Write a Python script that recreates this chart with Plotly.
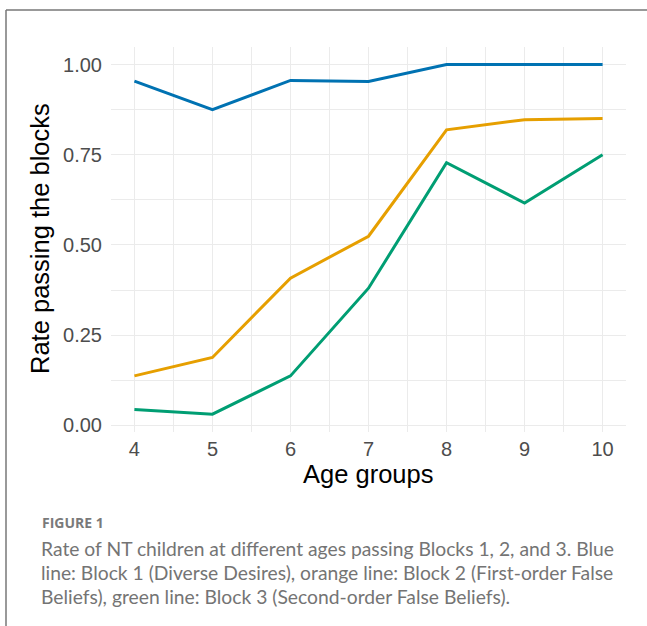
import plotly.graph_objects as go

ages = [4, 5, 6, 7, 8, 9, 10]
block1 = [0.954, 0.875, 0.956, 0.953, 1.0, 1.0, 1.0]
block2 = [0.137, 0.188, 0.408, 0.524, 0.819, 0.847, 0.850]
block3 = [0.044, 0.031, 0.137, 0.380, 0.728, 0.616, 0.750]
series_names = ["Block 1", "Block 2", "Block 3"]
series_colors = ["#0072B2", "#E69F00", "#009E73"]
y_ticks = [0.0, 0.25, 0.5, 0.75, 1.0]
y_tick_labels = ["0.00", "0.25", "0.50", "0.75", "1.00"]
x_title = "Age groups"
y_title = "Rate passing the blocks"
caption_label = "FIGURE 1"
caption_lines = [
    "Rate of NT children at different ages passing Blocks 1, 2, and 3. Blue",
    "line: Block 1 (Diverse Desires), orange line: Block 2 (First-order False",
    "Beliefs), green line: Block 3 (Second-order False Beliefs).",
]

W, H = 647, 626
L, R, T, B = 111, 626, 47, 432  # plot area in pixels


def px(x):
    return (x - L) / (R - L)


def py(y):
    return (B - y) / (B - T)


fig = go.Figure()
for vals, name, col in zip([block1, block2, block3], series_names, series_colors):
    fig.add_trace(go.Scatter(x=ages, y=vals, mode="lines", name=name,
                             line=dict(color=col, width=3)))

grid = "#EBEBEB"
fig.update_layout(
    width=W, height=H,
    margin=dict(l=L, r=W - R, t=T, b=H - B, pad=0),
    paper_bgcolor="white", plot_bgcolor="white",
    showlegend=False,
    font=dict(family="Liberation Sans, Arial, sans-serif"),
    xaxis=dict(range=[3.7, 10.3], tickvals=ages, ticktext=[str(a) for a in ages],
               showgrid=True, gridcolor=grid, gridwidth=1.4, zeroline=False,
               showline=False, ticks="", ticklabelstandoff=3,
               tickfont=dict(size=20, color="#4D4D4D"),
               minor=dict(tickvals=[4.5, 5.5, 6.5, 7.5, 8.5, 9.5], showgrid=True,
                          gridcolor=grid, gridwidth=0.8)),
    yaxis=dict(range=[-0.0185, 1.0485], tickvals=y_ticks, ticktext=y_tick_labels,
               showgrid=True, gridcolor=grid, gridwidth=1.4, zeroline=False,
               showline=False, ticks="", ticklabelstandoff=8,
               tickfont=dict(size=20, color="#4D4D4D"),
               minor=dict(tickvals=[0.125, 0.375, 0.625, 0.875], showgrid=True,
                          gridcolor=grid, gridwidth=0.8)),
)

annotations = [
    dict(text=x_title, x=px(368), y=py(474), xref="paper", yref="paper",
         showarrow=False, xanchor="center", yanchor="middle",
         font=dict(size=25.5, color="black")),
    dict(text=y_title, x=px(40), y=py(239), xref="paper", yref="paper",
         showarrow=False, xanchor="center", yanchor="middle", textangle=-90,
         font=dict(size=25.5, color="black")),
    dict(text="<b>" + caption_label + "</b>", x=px(40), y=py(522), xref="paper", yref="paper",
         showarrow=False, xanchor="left", yanchor="middle",
         font=dict(family="Open Sans, sans-serif", size=14, color="#7A7A7A")),
]
for i, line in enumerate(caption_lines):
    annotations.append(dict(text=line, x=px(39), y=py(548 + 24 * i), xref="paper", yref="paper",
                            showarrow=False, xanchor="left", yanchor="middle",
                            font=dict(family="Lato, sans-serif", size=19.3, color="#747474")))
fig.update_layout(annotations=annotations)

fig.add_shape(type="line", xref="paper", yref="paper", x0=px(6), x1=px(W),
              y0=py(10), y1=py(10), line=dict(color="#777777", width=1.5))
fig.add_shape(type="line", xref="paper", yref="paper", x0=px(6), x1=px(6),
              y0=py(10), y1=py(H), line=dict(color="#777777", width=1.5))

fig.write_html("out.html", config={"displayModeBar": False},
               post_script="document.body.style.margin='0';document.body.style.overflow='hidden';")
